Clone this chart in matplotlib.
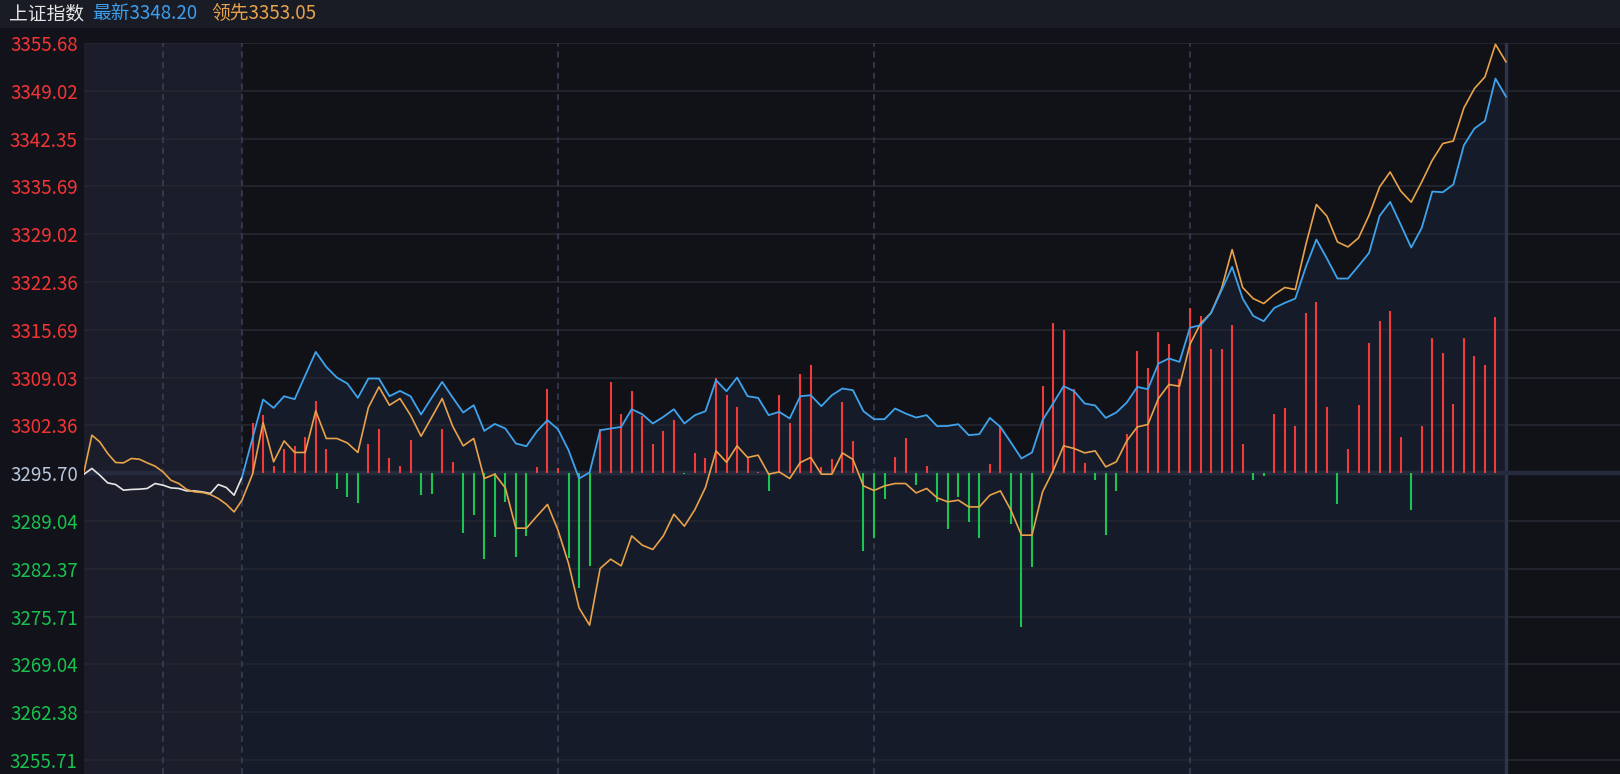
import numpy as np
import matplotlib
matplotlib.use('Agg')
import matplotlib.pyplot as plt
from matplotlib.patches import Rectangle

plt.rcParams['font.family'] = ['Noto Sans CJK SC', 'DejaVu Sans']

# ---------------- data ----------------
index_name = '上证指数'
latest_label = '最新'
lead_label = '领先'
latest_value = 3348.20
lead_value = 3353.05
prev_close = 3295.70

y_ticks = [3355.68, 3349.02, 3342.35, 3335.69, 3329.02, 3322.36, 3315.69, 3309.03,
           3302.36, 3295.70, 3289.04, 3282.37, 3275.71, 3269.04, 3262.38, 3255.71]

# pre-market (call auction) series, 09:00-09:30
pre_white = [3295.56, 3296.36, 3295.42, 3294.35, 3294.12, 3293.33, 3293.43, 3293.47,
             3293.57, 3294.26, 3294.03, 3293.65, 3293.57, 3293.23, 3293.23, 3293.09,
             3292.87, 3294.12, 3293.71, 3292.63]
pre_orange = [3295.88, 3301.00, 3300.06, 3298.45, 3297.19, 3297.14, 3297.75, 3297.65,
              3297.14, 3296.68, 3295.88, 3294.72, 3294.26, 3293.43, 3293.09, 3293.01,
              3292.73, 3292.17, 3291.38, 3290.30]

# main session, 2-minute points 09:30 -> 15:00
index_line = [3295.14, 3300.58, 3305.97, 3304.80, 3306.43, 3306.02, 3309.32, 3312.61,
              3310.52, 3309.04, 3308.20, 3306.20, 3308.90, 3308.90, 3306.43, 3307.17,
              3306.43, 3303.88, 3306.20, 3308.43, 3306.25, 3304.16, 3305.18, 3301.60,
              3302.57, 3301.93, 3299.84, 3299.46, 3301.55, 3303.09, 3301.83, 3298.91,
              3294.96, 3295.80, 3301.69, 3301.93, 3302.15, 3304.62, 3303.92, 3302.63,
              3303.55, 3304.62, 3302.63, 3303.79, 3304.34, 3308.66, 3307.13, 3309.04,
              3306.43, 3306.20, 3303.79, 3304.25, 3303.33, 3306.43, 3306.57, 3305.04,
              3306.57, 3307.51, 3307.27, 3304.34, 3303.23, 3303.23, 3304.72, 3304.02,
              3303.46, 3303.79, 3302.25, 3302.29, 3302.53, 3301.00, 3301.14, 3303.41,
              3302.15, 3299.98, 3297.75, 3298.59, 3303.09, 3305.42, 3307.83, 3307.13,
              3305.42, 3305.14, 3303.41, 3304.16, 3305.56, 3307.73, 3307.41, 3310.99,
              3311.69, 3311.22, 3316.00, 3316.33, 3318.05, 3321.21, 3324.46, 3320.05,
              3317.63, 3316.89, 3318.74, 3319.44, 3320.05, 3324.46, 3328.28, 3325.63,
              3322.84, 3322.84, 3324.60, 3326.41, 3331.57, 3333.52, 3330.37, 3327.16,
              3329.90, 3334.97, 3334.87, 3335.95, 3341.42, 3343.75, 3344.81, 3350.72,
              3348.20]

lead_line = [3291.94, 3295.56, 3302.77, 3297.28, 3300.20, 3298.59, 3298.59, 3304.38,
             3300.54, 3300.54, 3299.92, 3298.59, 3304.86, 3307.73, 3305.18, 3306.11,
             3303.79, 3300.86, 3303.46, 3306.11, 3302.25, 3299.51, 3300.54, 3294.96,
             3295.56, 3293.65, 3288.03, 3288.03, 3289.71, 3291.34, 3287.75, 3283.11,
             3276.92, 3274.51, 3282.41, 3283.71, 3282.78, 3286.96, 3285.66, 3285.06,
             3286.96, 3289.98, 3288.31, 3290.64, 3293.71, 3298.81, 3297.23, 3299.51,
             3297.89, 3298.21, 3295.56, 3295.88, 3294.96, 3297.19, 3297.89, 3295.56,
             3295.56, 3298.53, 3297.61, 3293.93, 3293.29, 3293.93, 3294.26, 3294.26,
             3292.95, 3293.57, 3292.26, 3291.70, 3291.94, 3291.00, 3291.00, 3292.63,
             3293.23, 3290.54, 3287.06, 3287.06, 3293.09, 3296.02, 3299.51, 3299.14,
             3298.53, 3298.81, 3296.58, 3297.28, 3300.20, 3302.15, 3302.49, 3306.11,
             3308.06, 3307.83, 3313.68, 3316.57, 3318.05, 3321.45, 3326.88, 3321.59,
             3320.05, 3319.36, 3320.61, 3321.59, 3321.31, 3327.58, 3333.16, 3331.53,
             3327.94, 3327.25, 3328.50, 3331.67, 3335.61, 3337.70, 3335.05, 3333.48,
             3336.31, 3339.33, 3341.66, 3342.02, 3346.62, 3349.33, 3350.95, 3355.50,
             3353.05]

# up/down bars (points relative to previous close)
bar_values = [0.00, 6.93, 8.18, 1.07, 3.35, 3.76, 5.06, 10.08, 3.35, -2.27,
              -3.30, -4.14, 4.00, 6.13, 2.13, 1.07, 4.60, -3.11, -2.89, 6.13,
              1.49, -8.32, -5.81, -12.03, -8.96, -4.00, -11.67, -8.74, 0.84, 11.71,
              0.70, -11.89, -16.07, -12.92, 6.23, 12.73, 8.32, 11.47, 7.95, 4.00,
              5.85, 7.39, -0.18, 2.75, 2.13, 13.34, 10.87, 9.16, 2.13, 0.18,
              -2.51, 10.87, 6.93, 13.80, 15.06, 0.84, 1.91, 9.86, 4.42, -10.83,
              -9.02, -3.53, 2.27, 4.84, -1.67, 1.02, -4.00, -7.85, -3.30, -6.87,
              -9.10, 1.25, 6.45, -7.11, -21.43, -13.15, 12.13, 20.95, 19.93, 11.71,
              1.44, -0.98, -8.55, -2.47, 5.44, 17.01, 14.60, 19.70, 17.98, 13.20,
              23.04, 21.93, 17.38, 17.38, 20.73, 4.00, -0.98, -0.38, 8.32, 9.02,
              6.55, 22.40, 23.88, 9.24, -4.32, 3.35, 9.48, 18.22, 21.19, 22.58,
              5.06, -5.16, 6.55, 18.86, 16.77, 9.62, 18.86, 16.35, 15.06, 21.79,
              0.00]

# time positions (minutes after 09:00, trading time, lunch break removed)
pre_x = np.arange(len(pre_white)) * 1.5
main_x = 30 + np.arange(len(index_line)) * 2
session_marks = [15, 30, 90, 150, 210]
close_mark = 270

# ---------------- layout ----------------
W, H = 1620, 774
fig = plt.figure(figsize=(W / 100, H / 100), dpi=100, facecolor='#12131a')
fig.patches.append(Rectangle((0, 1 - 28 / H), 1, 28 / H, transform=fig.transFigure,
                             facecolor='#1a1c25', edgecolor='none', zorder=0))

ax = fig.add_axes([84 / W, 0, 1536 / W, 731 / H])
ax.set_facecolor('#111218')
px_per_unit = 1264 / 240
ax.set_xlim(0, 1536 / px_per_unit)
ytop = y_ticks[0]
ybot = y_ticks[0] - (y_ticks[0] - y_ticks[-1]) * 731 / 717
ax.set_ylim(ybot, ytop)

ax.axvspan(0, 30, color='#1b1e2a', zorder=0.2, lw=0)
ax.fill_between(main_x, index_line, ybot, color='#151b28', zorder=0.5, lw=0)

for t in y_ticks:
    ax.axhline(t, color='#23262f', lw=1.3, zorder=1)
ax.axhline(prev_close, color='#252a3c', lw=3.2, zorder=1.5)

for xv in session_marks:
    ax.axvline(xv, color='#3b4058', lw=1.1, ls=(0, (4, 3)), zorder=1.2)
ax.axvline(close_mark, color='#2e3449', lw=2.4, zorder=1.2)

bars = np.array(bar_values)
colors = ['#f03b3b' if b > 0 else '#1cc453' for b in bars]
ax.vlines(main_x, prev_close, prev_close + bars, colors=colors, lw=1.5, zorder=2)

ax.plot(list(pre_x) + [main_x[0]], pre_white + [index_line[0]], color='#e6e6e6', lw=1.2, zorder=3)
ax.plot(list(pre_x) + list(main_x), pre_orange + lead_line, color='#e8a24a', lw=1.2, zorder=3.1)
ax.plot(main_x, index_line, color='#3ea3ec', lw=1.3, zorder=3.2)

ax.set_xticks([])
ax.set_yticks(y_ticks)
ax.set_yticklabels([f'{t:.2f}' for t in y_ticks])
ax.tick_params(axis='y', length=0, pad=4.5, labelsize=13.5)
for lab, t in zip(ax.get_yticklabels(), y_ticks):
    if t > prev_close + 1e-6:
        lab.set_color('#f53535')
    elif t < prev_close - 1e-6:
        lab.set_color('#18c24e')
    else:
        lab.set_color('#b8c6da')
for s in ax.spines.values():
    s.set_visible(False)

yh = 1 - 14 / H
fig.text(9 / W, yh, index_name, color='#e6e6e6', fontsize=13.5, va='center', ha='left')
fig.text(92 / W, yh, f'{latest_label}{latest_value:.2f}', color='#3b9ff0', fontsize=13.5,
         va='center', ha='left')
fig.text(211 / W, yh, f'{lead_label}{lead_value:.2f}', color='#e8a24a', fontsize=13.5,
         va='center', ha='left')

fig.savefig('out.png', dpi=100, facecolor=fig.get_facecolor())
